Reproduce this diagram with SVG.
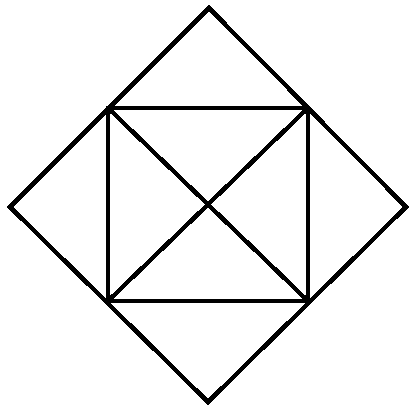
<svg xmlns="http://www.w3.org/2000/svg" width="418" height="410" viewBox="0 0 418 410">
<style>.l{fill:none;stroke:#000;stroke-width:4.5;stroke-linejoin:miter;shape-rendering:crispEdges}</style>
<rect width="418" height="410" fill="#fff"/>
<g id="diamond"><polygon class="l" points="209,8 406,207 208,402 10,207"/></g>
<g id="square"><rect class="l" x="108" y="108" width="200" height="193"/></g>
<g id="connectors"><line class="l" x1="108" y1="108" x2="308" y2="301"/><line class="l" x1="308" y1="108" x2="108" y2="301"/></g>
</svg>
